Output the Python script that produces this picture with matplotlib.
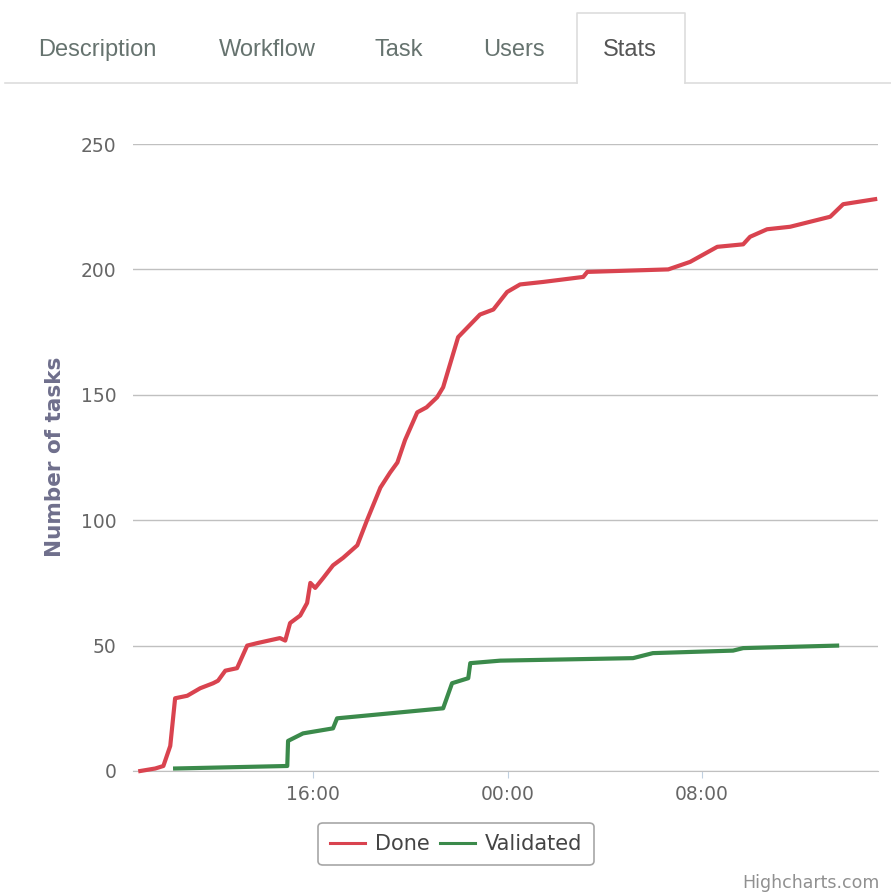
import pandas as pd
import numpy as np
import matplotlib
matplotlib.use('Agg')
import matplotlib.pyplot as plt
import matplotlib.dates as mdates
from matplotlib.lines import Line2D

#-----------------data-----------------#

done_times = ['2014-06-10 08:53', '2014-06-10 09:30', '2014-06-10 09:50', '2014-06-10 10:07',
              '2014-06-10 10:19', '2014-06-10 10:49', '2014-06-10 11:21', '2014-06-10 11:53',
              '2014-06-10 12:05', '2014-06-10 12:23', '2014-06-10 12:52', '2014-06-10 13:17',
              '2014-06-10 13:42', '2014-06-10 14:38', '2014-06-10 14:51', '2014-06-10 15:03',
              '2014-06-10 15:28', '2014-06-10 15:45', '2014-06-10 15:53', '2014-06-10 16:05',
              '2014-06-10 16:25', '2014-06-10 16:49', '2014-06-10 17:14', '2014-06-10 17:49',
              '2014-06-10 18:13', '2014-06-10 18:46', '2014-06-10 19:10', '2014-06-10 19:28',
              '2014-06-10 19:47', '2014-06-10 20:17', '2014-06-10 20:40', '2014-06-10 21:06',
              '2014-06-10 21:21', '2014-06-10 21:58', '2014-06-10 22:28', '2014-06-10 22:52',
              '2014-06-10 23:25', '2014-06-10 23:59', '2014-06-11 00:31', '2014-06-11 01:28',
              '2014-06-11 03:07', '2014-06-11 03:17', '2014-06-11 06:37', '2014-06-11 07:31',
              '2014-06-11 08:38', '2014-06-11 09:42', '2014-06-11 09:59', '2014-06-11 10:41',
              '2014-06-11 11:38', '2014-06-11 13:17', '2014-06-11 13:49', '2014-06-11 15:08']
done_values = [0, 1, 2, 10, 29, 30, 33, 35, 36, 40, 41, 50, 51, 53, 52, 59, 62, 67, 75, 73,
               77, 82, 85, 90, 100, 113, 119, 123, 132, 143, 145, 149, 153, 173, 178, 182,
               184, 191, 194, 195, 197, 199, 200, 203, 209, 210, 213, 216, 217, 221, 226, 228]

validated_times = ['2014-06-10 10:19', '2014-06-10 14:56', '2014-06-10 14:58', '2014-06-10 15:35',
                   '2014-06-10 16:49', '2014-06-10 16:59', '2014-06-10 21:21', '2014-06-10 21:43',
                   '2014-06-10 22:23', '2014-06-10 22:28', '2014-06-10 23:42', '2014-06-11 05:10',
                   '2014-06-11 05:59', '2014-06-11 09:17', '2014-06-11 09:42', '2014-06-11 13:34']
validated_values = [1, 2, 12, 15, 17, 21, 25, 35, 37, 43, 44, 45, 47, 48, 49, 50]

tick_times = ['2014-06-10 16:00', '2014-06-11 00:00', '2014-06-11 08:00']
tick_labels = ['16:00', '00:00', '08:00']
y_ticks = [0, 50, 100, 150, 200, 250]

tab_names = ['Description', 'Workflow', 'Task', 'Users', 'Stats']

df_done = pd.DataFrame({'Date': pd.to_datetime(done_times), 'Tasks': done_values})
df_valid = pd.DataFrame({'Date': pd.to_datetime(validated_times), 'Tasks': validated_values})

#-----------------figure-----------------#

W, H = 891, 894
fig = plt.figure(figsize=(W / 100, H / 100), dpi=100)
fig.patch.set_facecolor('white')

def fx(px):
    return px / W

def fy(py):
    return 1 - py / H

# tabs
tab_x = [97, 267, 399, 514, 630]
for name, x in zip(tab_names, tab_x):
    fig.text(fx(x), fy(50), name, ha='center', va='center', fontsize=17,
             family='Liberation Sans', color='#555555' if name == 'Stats' else '#66736f')

tab_col = '#dddddd'
fig.add_artist(Line2D([fx(5), fx(577)], [fy(83), fy(83)], color=tab_col, lw=1.2))
fig.add_artist(Line2D([fx(685), fx(891)], [fy(83), fy(83)], color=tab_col, lw=1.2))
fig.add_artist(Line2D([fx(577), fx(577), fx(685), fx(685)],
                      [fy(83), fy(13), fy(13), fy(83)], color=tab_col, lw=1.2))

# plot area
ax = fig.add_axes([fx(133), fy(771), fx(878 - 133), (771 - 144) / H])
ax.plot(df_done['Date'], df_done['Tasks'], color='#d9434f', lw=3, label='Done',
        solid_joinstyle='round', clip_on=False, zorder=3)
ax.plot(df_valid['Date'], df_valid['Tasks'], color='#3b8a4b', lw=3, label='Validated',
        solid_joinstyle='round', clip_on=False, zorder=3)

ax.set_xlim(pd.Timestamp('2014-06-10 08:35'), pd.Timestamp('2014-06-11 15:15'))
ax.set_ylim(0, 250)
ax.set_yticks(y_ticks)
ax.set_xticks(pd.to_datetime(tick_times))
ax.set_xticklabels(tick_labels)
ax.grid(axis='y', color='#c0c0c0', lw=1)
ax.set_axisbelow(True)
for s in ['top', 'right', 'left']:
    ax.spines[s].set_visible(False)
ax.spines['bottom'].set_color('#c0c0c0')
ax.tick_params(axis='y', length=0, pad=12, labelsize=13.5, labelcolor='#666666')
ax.tick_params(axis='x', length=5, color='#c0d0e0', pad=5, labelsize=13.5, labelcolor='#666666')
for lab in ax.get_xticklabels() + ax.get_yticklabels():
    lab.set_family('DejaVu Sans')

fig.text(fx(55), fy(457), 'Number of tasks', rotation=90, ha='center', va='center',
         fontsize=15.5, fontweight='bold', color='#6f6f8c', family='DejaVu Sans')

# legend
leg = fig.legend(loc='center', bbox_to_anchor=(fx(456), fy(844)), ncol=2, fontsize=15,
                 frameon=True, fancybox=True, edgecolor='#909090', handlelength=1.7,
                 handletextpad=0.45, columnspacing=0.5, borderpad=0.55)
leg.get_frame().set_linewidth(1.2)
for line in leg.get_lines():
    line.set_linewidth(2.2)
for t in leg.get_texts():
    t.set_color('#444444')

fig.text(fx(880), fy(883), 'Highcharts.com', ha='right', va='center', fontsize=12.5,
         color='#909090', family='DejaVu Sans')

fig.savefig('out.png', dpi=100, facecolor='white')
